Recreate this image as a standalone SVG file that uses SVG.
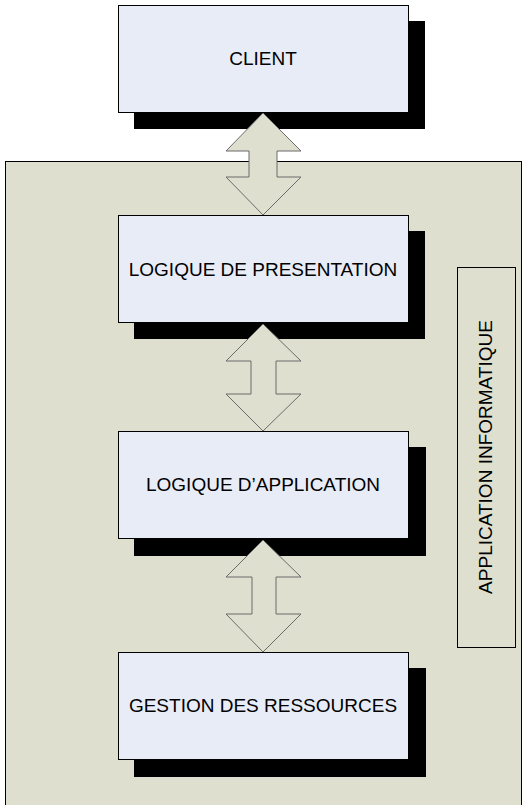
<svg xmlns="http://www.w3.org/2000/svg" width="524" height="805" viewBox="0 0 524 805">
<style>
.shadow{fill:#000}
.box{fill:#E8ECF7;stroke:#000;stroke-width:1}
.lbl{font-family:"Liberation Sans",Arial,sans-serif;font-size:19px;fill:#000;text-anchor:middle}
.arrow{fill:#DEDFCE;stroke:#6B6B6B;stroke-width:1}
</style>
<rect width="524" height="805" fill="#fff"/>
<g id="container">
<rect x="5.5" y="161.5" width="516" height="650" fill="#DEDFCE" stroke="#000"/>
</g>
<g id="side-label">
<rect x="457.5" y="267.5" width="58" height="380" fill="none" stroke="#000"/>
<text class="lbl" transform="translate(492,457) rotate(-90)" x="0" y="0">APPLICATION INFORMATIQUE</text>
</g>
<g id="client">
<rect class="shadow" x="134" y="21" width="291" height="108"/>
<rect class="box" x="118.5" y="5.5" width="290" height="107"/>
<text class="lbl" x="263" y="65">CLIENT</text>
</g>
<g id="presentation">
<rect class="shadow" x="134" y="231" width="291" height="108"/>
<rect class="box" x="118.5" y="215.5" width="290" height="107"/>
<text class="lbl" x="263" y="276">LOGIQUE DE PRESENTATION</text>
</g>
<g id="application">
<rect class="shadow" x="134" y="447" width="292" height="109"/>
<rect class="box" x="118.5" y="431.5" width="290" height="107"/>
<text class="lbl" x="263" y="491">LOGIQUE D’APPLICATION</text>
</g>
<g id="ressources">
<rect class="shadow" x="134" y="668" width="292" height="109"/>
<rect class="box" x="118.5" y="652.5" width="290" height="107"/>
<text class="lbl" x="263" y="712">GESTION DES RESSOURCES</text>
</g>
<g id="connectors">
<polygon class="arrow" points="263,113 301,151 277,151 277,177 301,177 263,215 226,177 249,177 249,151 226,151"/>
<polygon class="arrow" points="263,324 301,361 276,361 276,394 301,394 263,431 226,394 251,394 251,361 226,361"/>
<polygon class="arrow" points="263,540 301,577 276,577 276,614 301,614 263,652 226,614 252,614 252,577 226,577"/>
</g>
</svg>
